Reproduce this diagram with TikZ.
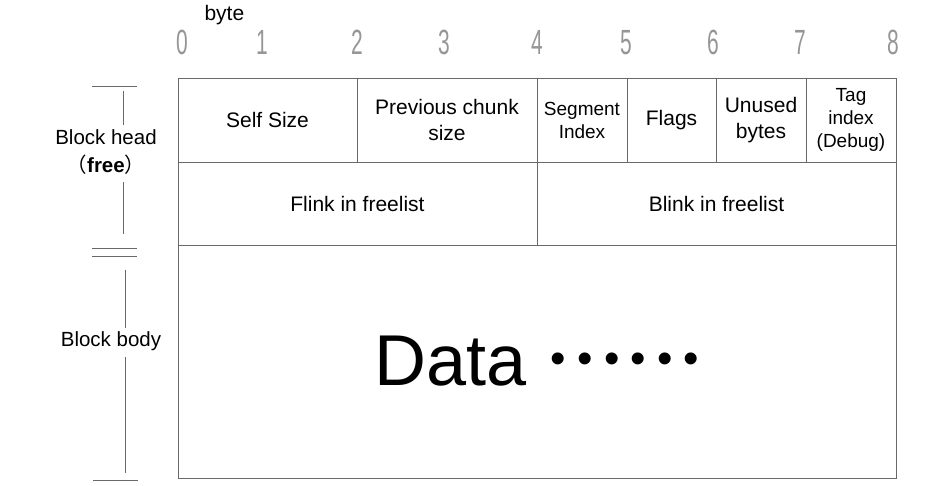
\documentclass[tikz,border=0pt]{standalone}
\usepackage{fontspec}
\setmainfont{Liberation Sans}
\newfontfamily\cjk{Noto Sans CJK SC}
\newfontfamily\narrowfont[FakeStretch=0.6]{Liberation Sans}
\usepackage{tikz}
\usetikzlibrary{positioning}
\definecolor{rule}{RGB}{105,105,105}
\definecolor{numgray}{RGB}{150,150,150}

\begin{document}
\begin{tikzpicture}[
    x=1pt, y=-1pt,
    node distance=0pt,
    cell/.style={rectangle, draw=rule, line width=0.9pt, inner sep=0pt, outer sep=0pt, align=center, minimum height=84pt, font=\fontsize{21}{26}\selectfont},
    small/.style={font=\fontsize{19}{23}\selectfont},
    side/.style={align=center, font=\fontsize{20.5}{28}\selectfont},
    bytenum/.style={text=numgray, font=\narrowfont\fontsize{35}{35}\selectfont},
    bar/.style={draw=rule, line width=0.9pt}
]
    \useasboundingbox (0,0) rectangle (952,486);

    % byte scale
    \node[anchor=base west, font=\fontsize{21}{21}\selectfont] (bytelabel) at (201,21) {byte};
    \foreach \x/\n in {182/0, 262/1, 357/2, 444/3, 537/4, 626/5, 713/6, 800/7, 893/8}
        \node[bytenum] (b\n) at (\x,42.5) {\n};

    % block head
    \node[cell, minimum width=179pt, anchor=north west] (self) at (178,78) {Self Size};
    \node[cell, minimum width=180pt, right=of self] (prev) {Previous chunk\\size};
    \node[cell, small, minimum width=90pt, right=of prev] (seg) {Segment\\Index};
    \node[cell, minimum width=89pt, right=of seg] (flags) {Flags};
    \node[cell, minimum width=90pt, right=of flags] (unused) {Unused\\bytes};
    \node[cell, small, minimum width=90pt, right=of unused] (tag) {Tag\\index\\(Debug)};
    \node[cell, minimum width=359pt, minimum height=83pt, anchor=north west] (flink) at (self.south west) {Flink in freelist};
    \node[cell, minimum width=359pt, minimum height=83pt, right=of flink] (blink) {Blink in freelist};

    % block body
    \node[cell, minimum width=718pt, minimum height=233pt, anchor=north west] (body) at (flink.south west) {\fontsize{72}{72}\selectfont Data\kern24pt\raisebox{12pt}{\fontsize{44}{44}\selectfont •\kern11.2pt•\kern11.2pt•\kern11.2pt•\kern11.2pt•\kern11.2pt•}};

    % side labels
    \node[side] (head) at (106,152) {Block head\\{\cjk （}\textbf{free}{\cjk ）}};
    \node[side] (bodylabel) at (111,341) {Block body};
    \draw[bar] (92,86) -- (137,86);
    \draw[bar] (123,91) -- (123,125);
    \draw[bar] (123,182) -- (123,234);
    \draw[bar] (92,248) -- (137,248);
    \draw[bar] (92,256) -- (137,256);
    \draw[bar] (125,270) -- (125,328);
    \draw[bar] (125,357) -- (125,473);
    \draw[bar] (93,480) -- (138,480);
\end{tikzpicture}
\end{document}
